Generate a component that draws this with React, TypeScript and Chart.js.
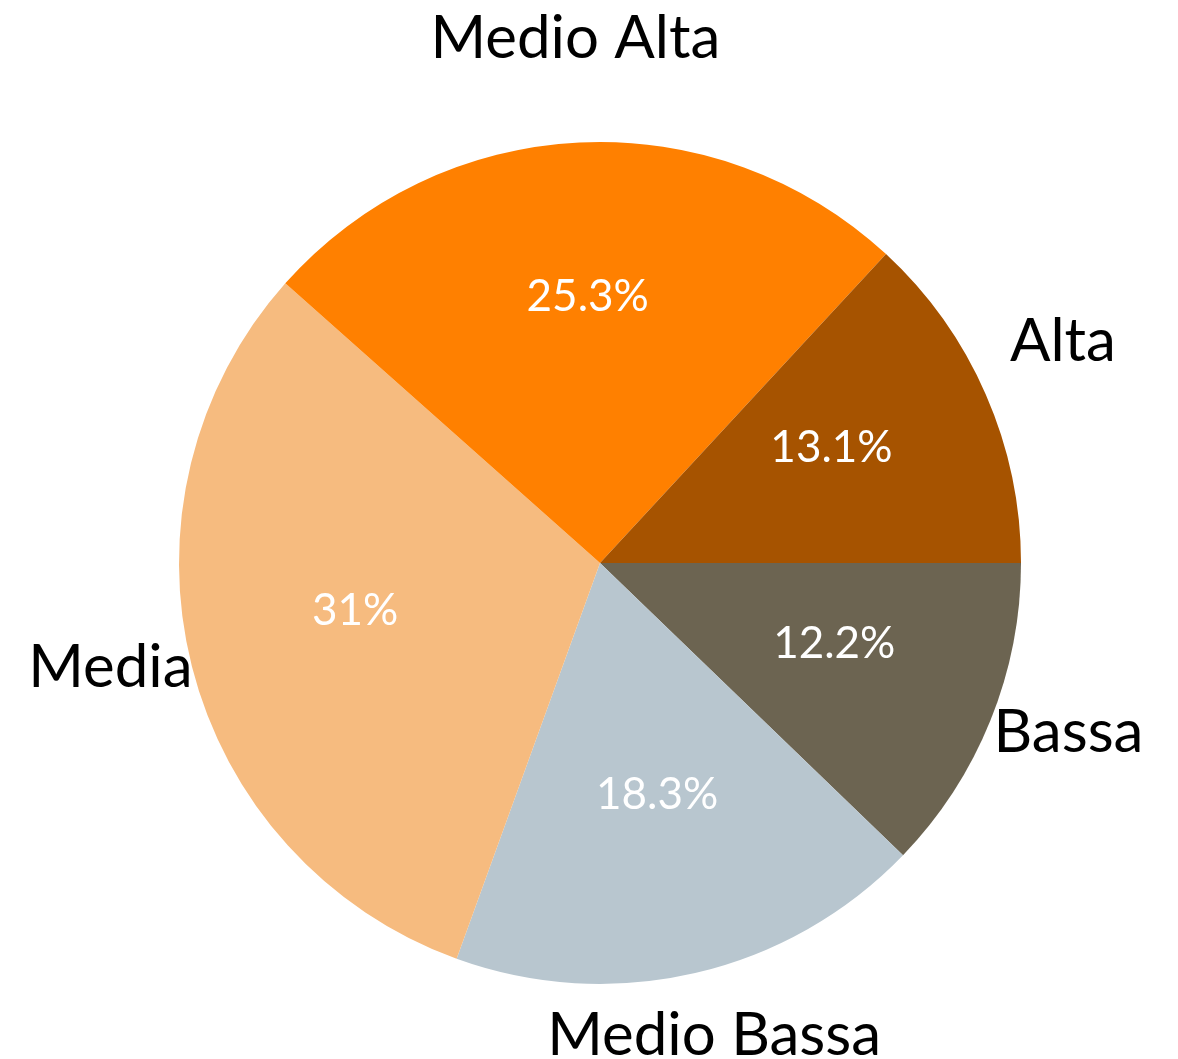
import React, { useEffect, useRef } from "react";
import { Chart, registerables } from "chart.js";

Chart.register(...registerables);

// Drawn clockwise starting at 3 o'clock (reference runs counter-clockwise from Alta)
const categories = ["Bassa", "Medio Bassa", "Media", "Medio Alta", "Alta"];
const values = [12.2, 18.3, 31.0, 25.3, 13.1];
const colors = ["#6C6451", "#B8C6CF", "#F6BB7F", "#FF8000", "#A65300"];

const FONT = "Lato, 'Open Sans', sans-serif";

const labelPlugin = {
  id: "pieLabels",
  afterDatasetsDraw(chart: any) {
    const ctx = chart.ctx;
    const meta = chart.getDatasetMeta(0);
    const ds = chart.data.datasets[0];
    ctx.save();
    ctx.textAlign = "center";
    ctx.textBaseline = "alphabetic";
    meta.data.forEach((arc: any, i: number) => {
      const { x, y, startAngle, endAngle, outerRadius } = arc.getProps(
        ["x", "y", "startAngle", "endAngle", "outerRadius"],
        true
      );
      const mid = (startAngle + endAngle) / 2;
      const cx = Math.cos(mid);
      const sy = Math.sin(mid);
      // outer category label
      ctx.fillStyle = "#000000";
      ctx.font = `400 60px ${FONT}`;
      ctx.fillText(
        chart.data.labels[i],
        x + cx * outerRadius * 1.2,
        y + sy * outerRadius * 1.2
      );
      // inner percentage
      ctx.fillStyle = "#FFFFFF";
      ctx.font = `400 44px ${FONT}`;
      ctx.fillText(
        `${Number(ds.data[i])}%`,
        x + cx * outerRadius * 0.6,
        y + sy * outerRadius * 0.6
      );
    });
    ctx.restore();
  },
};

export default function App() {
  const ref = useRef<HTMLCanvasElement | null>(null);
  useEffect(() => {
    if (!ref.current) return;
    const chart = new Chart(ref.current, {
      type: "pie",
      data: {
        labels: categories,
        datasets: [
          {
            data: values,
            backgroundColor: colors,
            borderWidth: 0,
          },
        ],
      },
      options: {
        responsive: false,
        animation: false,
        rotation: 90,
        layout: { padding: { left: 179, right: 157, top: 142, bottom: 75 } },
        plugins: {
          legend: { display: false },
          tooltip: { enabled: false },
        },
      },
      plugins: [labelPlugin],
    });
    return () => chart.destroy();
  }, []);
  return (
    <div
      style={{
        position: "fixed",
        left: 0,
        top: 0,
        width: 1178,
        height: 1059,
        background: "#ffffff",
      }}
    >
      <canvas ref={ref} width={1178} height={1059} />
    </div>
  );
}
